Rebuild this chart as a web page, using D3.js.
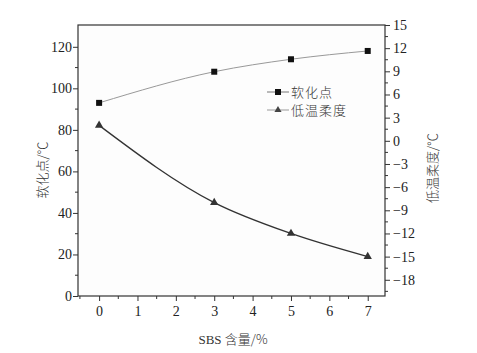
<!DOCTYPE html>
<html>
<head>
<meta charset="utf-8">
<script src="https://cdn.jsdelivr.net/npm/d3@7/dist/d3.min.js"></script>
<style>
body { margin: 0; background: #fff; }
.axis path, .axis line { stroke: #333; }
.cn { font-family: "Noto Sans CJK SC", sans-serif; font-weight: 300; fill: #333; }
</style>
</head>
<body>
<svg width="477" height="353"></svg>
<script>
const sbs = [0, 3, 5, 7]
const soften = [93, 108, 114, 118]
const lowTemp = [2, -8, -12, -15]
const leftTicks = [0, 20, 40, 60, 80, 100, 120]
const rightTicks = [15, 12, 9, 6, 3, 0, -3, -6, -9, -12, -15, -18]
const xTicks = [0, 1, 2, 3, 4, 5, 6, 7]
const names = ["软化点", "低温柔度"]

const serif = "'Liberation Serif', 'Times New Roman', serif"
const svg = d3.select("svg")
const pLeft = 78, pRight = 385, pTop = 25, pBottom = 296

let x = d3.scaleLinear().domain([-0.55, 7.45]).range([pLeft, pRight])
let yL = d3.scaleLinear().domain([0, 130.5]).range([pBottom, pTop])
let yR = d3.scaleLinear().domain([-20.1, 15]).range([pBottom, pTop])

// frame
svg.append("rect")
	.attr("x", pLeft).attr("y", pTop)
	.attr("width", pRight - pLeft).attr("height", pBottom - pTop)
	.attr("fill", "#fdfdfd").attr("stroke", "#333").attr("stroke-width", 1.2)

// minor ticks
let minorL = d3.range(10, 130, 20)
svg.selectAll("line.minL").data(minorL).enter().append("line")
	.attr("x1", pLeft).attr("x2", pLeft - 3)
	.attr("y1", d => yL(d)).attr("y2", d => yL(d))
	.attr("stroke", "#333")
let minorR = d3.range(13.5, -20, -3)
svg.selectAll("line.minR").data(minorR).enter().append("line")
	.attr("x1", pRight).attr("x2", pRight + 3)
	.attr("y1", d => yR(d)).attr("y2", d => yR(d))
	.attr("stroke", "#333")
let minorX = d3.range(-0.5, 7.5, 1)
svg.selectAll("line.minX").data(minorX).enter().append("line")
	.attr("x1", d => x(d)).attr("x2", d => x(d))
	.attr("y1", pBottom).attr("y2", pBottom + 3)
	.attr("stroke", "#333")

let gL = svg.append("g").attr("class", "axis")
	.attr("transform", "translate(" + pLeft + ",0)")
	.call(d3.axisLeft(yL).tickValues(leftTicks).tickSize(5).tickPadding(1))
let gR = svg.append("g").attr("class", "axis")
	.attr("transform", "translate(" + pRight + ",0)")
	.call(d3.axisRight(yR).tickValues(rightTicks).tickSize(5).tickPadding(3)
		.tickFormat(d => d < 0 ? "\u2212" + Math.abs(d) : d))
let gX = svg.append("g").attr("class", "axis")
	.attr("transform", "translate(0," + pBottom + ")")
	.call(d3.axisBottom(x).tickValues(xTicks).tickSize(5).tickPadding(5))
svg.selectAll(".axis path.domain").remove()
svg.selectAll(".axis")
	.attr("font-family", serif)
	.attr("font-size", 14)
svg.selectAll(".axis text").attr("fill", "#222")

// lines
let line1 = d3.line().x((d, i) => x(sbs[i])).y(d => yL(d)).curve(d3.curveMonotoneX)
let line2 = d3.line().x((d, i) => x(sbs[i])).y(d => yR(d)).curve(d3.curveMonotoneX)

svg.append("path").datum(soften)
	.attr("d", line1).attr("fill", "none").attr("stroke", "#999").attr("stroke-width", 1)
svg.append("path").datum(lowTemp)
	.attr("d", line2).attr("fill", "none").attr("stroke", "#333").attr("stroke-width", 1.3)

svg.selectAll("rect.sq").data(soften).enter().append("rect")
	.attr("x", (d, i) => x(sbs[i]) - 3).attr("y", d => yL(d) - 3)
	.attr("width", 6).attr("height", 6).attr("fill", "#111")

let tri = d3.symbol().type(d3.symbolTriangle).size(30)
svg.selectAll("path.tri").data(lowTemp).enter().append("path")
	.attr("d", tri)
	.attr("transform", (d, i) => "translate(" + x(sbs[i]) + "," + yR(d) + ")")
	.attr("fill", "#333")

// legend
let lg = svg.append("g").attr("transform", "translate(267,92)")
lg.append("line").attr("x1", 0).attr("x2", 22).attr("y1", 0).attr("y2", 0).attr("stroke", "#777")
lg.append("rect").attr("x", 8).attr("y", -3).attr("width", 6).attr("height", 6).attr("fill", "#111")
lg.append("line").attr("x1", 0).attr("x2", 22).attr("y1", 18).attr("y2", 18).attr("stroke", "#999")
lg.append("path").attr("d", d3.symbol().type(d3.symbolTriangle).size(22))
	.attr("transform", "translate(11,18)").attr("fill", "#444")
lg.selectAll("text").data(names).enter().append("text")
	.attr("class", "cn")
	.attr("x", 24).attr("y", (d, i) => i * 18 + 5)
	.attr("font-size", 13).attr("letter-spacing", 1)
	.text(d => d)

// axis titles
svg.append("text").attr("class", "cn")
	.attr("transform", "translate(47,170) rotate(-90)")
	.attr("text-anchor", "middle").attr("font-size", 13)
	.text("软化点/℃")
svg.append("text").attr("class", "cn")
	.attr("transform", "translate(437,168) rotate(-90)")
	.attr("text-anchor", "middle").attr("font-size", 13)
	.text("低温柔度/℃")
svg.append("text")
	.attr("x", 233).attr("y", 344)
	.attr("text-anchor", "middle").attr("font-size", 13).attr("fill", "#333")
	.attr("font-family", serif)
	.text("SBS ")
	.append("tspan").attr("class", "cn").text("含量/%")
</script>
</body>
</html>
